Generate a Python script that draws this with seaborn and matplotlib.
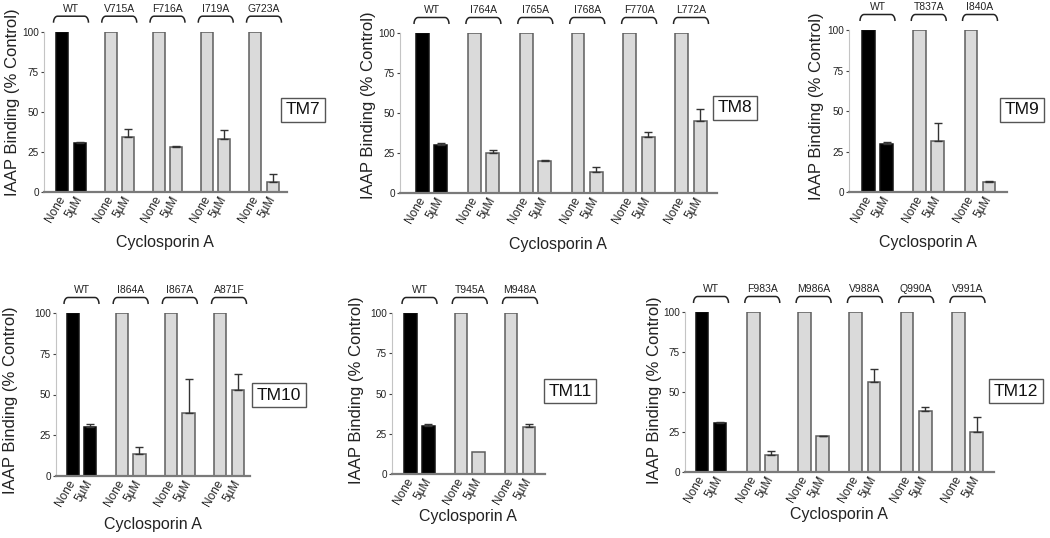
import numpy as np
import pandas as pd
import matplotlib
matplotlib.use("Agg")
import matplotlib.pyplot as plt
import matplotlib.transforms as mtransforms
import seaborn as sns

# ---------------- data ----------------
treatments = ["None", "5µM"]
control_value = 100
y_ticks = [0, 25, 50, 75, 100]

tm7_mutants = ["WT", "V715A", "F716A", "I719A", "G723A"]
tm7_csa = [30.3, 34.2, 27.8, 33.0, 6.4]
tm7_err = [1.2, 5.0, 1.2, 5.4, 4.8]

tm8_mutants = ["WT", "I764A", "I765A", "I768A", "F770A", "L772A"]
tm8_csa = [30.1, 24.7, 19.7, 13.4, 34.9, 45.2]
tm8_err = [1.1, 2.3, 1.2, 2.9, 3.0, 7.1]

tm9_mutants = ["WT", "T837A", "I840A"]
tm9_csa = [29.9, 31.5, 6.2]
tm9_err = [1.2, 10.8, 0.4]

tm10_mutants = ["WT", "I864A", "I867A", "A871F"]
tm10_csa = [30.2, 13.3, 38.4, 52.8]
tm10_err = [1.4, 4.6, 21.4, 9.8]

tm11_mutants = ["WT", "T945A", "M948A"]
tm11_csa = [29.9, 13.8, 29.5]
tm11_err = [1.2, 0.0, 1.4]

tm12_mutants = ["WT", "F983A", "M986A", "V988A", "Q990A", "V991A"]
tm12_csa = [30.5, 10.7, 22.2, 56.5, 38.1, 24.7]
tm12_err = [1.0, 2.3, 0.4, 7.7, 2.7, 9.8]

panel_names = ["TM7", "TM8", "TM9", "TM10", "TM11", "TM12"]
panel_mutants = [tm7_mutants, tm8_mutants, tm9_mutants, tm10_mutants, tm11_mutants, tm12_mutants]
panel_csa = [tm7_csa, tm8_csa, tm9_csa, tm10_csa, tm11_csa, tm12_csa]
panel_err = [tm7_err, tm8_err, tm9_err, tm10_err, tm11_err, tm12_err]

# ---------------- layout (pixels) ----------------
W, H = 1050, 538
# left spine, right end, top(100), bottom(0), first group center, last group center
axes_px = [
    (44, 287, 31.7, 192, 71, 264),
    (400, 717, 33, 193, 431.5, 691),
    (849, 1007, 30, 192, 877.5, 980),
    (56, 250, 313, 476, 81.5, 229),
    (392, 545, 313, 474, 419.5, 520),
    (685, 994, 312, 472, 711, 967.5),
]
ylabel_px = [(12.5, 102.5), (369, 105), (816, 106), (11, 400), (357, 390), (654, 390)]
xlabel_px = [(165, 243), (558, 245), (928, 243), (153, 525), (468, 517), (839, 515)]
box_px = [(303, 110), (735, 108), (1022, 110), (279, 395), (570, 391), (1016, 391)]

plt.rcParams["font.family"] = ["Liberation Sans", "DejaVu Sans"]
sns.set_theme(style="white")
plt.rcParams["font.family"] = ["Liberation Sans", "DejaVu Sans"]

fig = plt.figure(figsize=(W / 100, H / 100), dpi=100)
fig.patch.set_facecolor("white")

GRAY_FILL = "#dadada"
GRAY_EDGE = "#5e5e5e"
DARK = "#222222"

for k in range(6):
    l, r, t, b, c0, c1 = axes_px[k]
    ax = fig.add_axes([l / W, 1 - b / H, (r - l) / W, (b - t) / H])
    mutants = panel_mutants[k]
    n = len(mutants)
    rows = []
    for m, v in zip(mutants, panel_csa[k]):
        rows.append((m, treatments[0], control_value))
        rows.append((m, treatments[1], v))
    df = pd.DataFrame(rows, columns=["mutant", "treatment", "binding"])
    sns.barplot(data=df, x="mutant", y="binding", hue="treatment",
                order=mutants, hue_order=treatments, width=0.71, gap=0.3,
                errorbar=None, legend=False, ax=ax, palette=[GRAY_FILL, GRAY_FILL])

    spacing = (c1 - c0) / (n - 1)
    ax.set_xlim(-(c0 - l) / spacing, (n - 1) + (r - c1) / spacing)
    ax.set_ylim(0, 100)

    # recolor bars: WT black, mutants gray
    for hi, cont in enumerate(ax.containers):
        for gi, bar in enumerate(cont):
            if gi == 0:
                bar.set_facecolor("black")
                bar.set_edgecolor("#111111")
            else:
                bar.set_facecolor(GRAY_FILL)
                bar.set_edgecolor(GRAY_EDGE)
            bar.set_linewidth(1.1)
    # error bars (upper only) for CsA-treated bars
    csa_bars = ax.containers[1]
    for gi, bar in enumerate(csa_bars):
        xc = bar.get_x() + bar.get_width() / 2
        e = panel_err[k][gi]
        if e > 0:
            ax.errorbar(xc, bar.get_height(), yerr=[[0], [e]], fmt="none",
                        ecolor="#333333", elinewidth=1.0, capsize=3, capthick=1.0,
                        zorder=1)
    centers, labels = [], []
    for gi in range(n):
        for hi in range(2):
            bar = ax.containers[hi][gi]
            centers.append(bar.get_x() + bar.get_width() / 2)
            labels.append(treatments[hi])
    ax.set_xticks(centers)
    ax.set_xticklabels(labels, rotation=60, ha="right", va="center",
                       rotation_mode="anchor", fontsize=8.5, color=DARK)
    ax.tick_params(axis="x", length=0, pad=3.5)
    ax.set_yticks(y_ticks)
    ax.set_yticklabels([str(v) for v in y_ticks], fontsize=7.2, color=DARK)
    ax.tick_params(axis="y", left=True, length=2.5, width=0.8, color="#444444", pad=1.2)

    for s in ["top", "right"]:
        ax.spines[s].set_visible(False)
    ax.spines["left"].set_color("#c4c4c4")
    ax.spines["left"].set_linewidth(0.8)
    ax.spines["bottom"].set_color("#7a7a7a")
    ax.spines["bottom"].set_linewidth(1.6)
    ax.set_facecolor("white")

    # labels
    h_px = b - t
    w_px = r - l
    ax.set_ylabel("IAAP Binding (% Control)", fontsize=12, color=DARK)
    ax.yaxis.label.set_va("center")
    ax.yaxis.set_label_coords((ylabel_px[k][0] - l) / w_px, (b - ylabel_px[k][1]) / h_px)
    ax.set_xlabel("Cyclosporin A", fontsize=11.5, color=DARK)
    ax.xaxis.label.set_va("center")
    ax.xaxis.set_label_coords((xlabel_px[k][0] - l) / w_px, (b - xlabel_px[k][1]) / h_px)

    # brackets and group labels
    trans = mtransforms.blended_transform_factory(ax.transData, ax.transAxes)
    half = 17.5 / spacing
    rad = 4.0 / spacing
    ytop = 1 + 15.5 / h_px
    hook = 6.5 / h_px
    th = np.linspace(0, np.pi / 2, 8)
    for gi, m in enumerate(mutants):
        x0, x1 = gi - half, gi + half
        lx = x0 + rad * (1 - np.cos(th))
        ly = ytop - hook * (1 - np.sin(th))
        rx = x1 - rad * (1 - np.cos(th[::-1]))
        ry = ytop - hook * (1 - np.sin(th[::-1]))
        ax.plot(np.concatenate([lx, rx]), np.concatenate([ly, ry]), color=DARK,
                lw=1.1, transform=trans, clip_on=False, solid_capstyle="butt")
        ax.text(gi, 1 + 23 / h_px, m, transform=trans, ha="center", va="center",
                fontsize=7.5, color=DARK, clip_on=False)

    # TM box
    bx, by = box_px[k]
    fig.text(bx / W, 1 - by / H, panel_names[k], ha="center", va="center",
             fontsize=12.5, color="#111111",
             bbox=dict(boxstyle="square,pad=0.25", facecolor="white",
                       edgecolor="#555555", linewidth=1.0))

fig.savefig("out.png", dpi=100, facecolor="white")
